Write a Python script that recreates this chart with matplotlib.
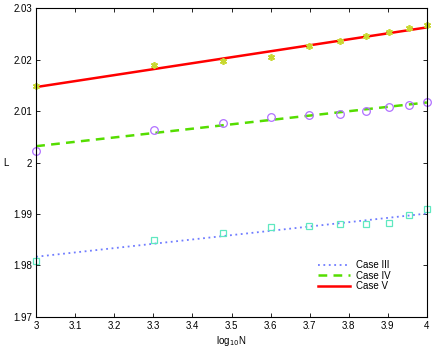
import numpy as np
import matplotlib
matplotlib.use("Agg")
import matplotlib.pyplot as plt

plt.rcParams["font.family"] = ["Liberation Sans", "DejaVu Sans"]

# log10 of N = 1000 ... 10000
log_n = [3.0, 3.301, 3.477, 3.602, 3.699, 3.778, 3.845, 3.903, 3.954, 4.0]

case3_pts = [1.9809, 1.9850, 1.9863, 1.9875, 1.9877, 1.9880, 1.9881, 1.9882, 1.9899, 1.9909]
case4_pts = [2.0023, 2.0064, 2.0077, 2.0089, 2.0092, 2.0094, 2.0101, 2.0108, 2.0113, 2.0118]
case5_pts = [2.0149, 2.0190, 2.0197, 2.0205, 2.0226, 2.0237, 2.0247, 2.0255, 2.0262, 2.0267]

# fitted lines, end values
fit_x = [3.0, 4.0]
case3_fit = [1.9817, 1.9901]
case4_fit = [2.0032, 2.0117]
case5_fit = [2.0147, 2.0263]

fig = plt.figure(figsize=(4.36, 3.49), dpi=100)
ax = fig.add_axes([0.083, 0.092, 0.896, 0.884])

l3, = ax.plot(fit_x, case3_fit, color="#6f7cff", linestyle=(0, (1, 2)), linewidth=1.3)
l4, = ax.plot(fit_x, case4_fit, color="#55dd00", linestyle=(0, (3.5, 2.5)), linewidth=1.8)
l5, = ax.plot(fit_x, case5_fit, color="#ff0000", linewidth=1.8)

ax.plot(log_n, case3_pts, linestyle="none", marker="s", markersize=4.5,
        markerfacecolor="none", markeredgecolor="#5fe8c0", markeredgewidth=0.9, clip_on=False)
ax.plot(log_n, case4_pts, linestyle="none", marker="o", markersize=5.5,
        markerfacecolor="none", markeredgecolor="#b070ff", markeredgewidth=0.9, clip_on=False)
ax.plot(log_n, case5_pts, linestyle="none", marker=(6, 2, 0), markersize=5,
        markeredgecolor="#c8d830", markeredgewidth=1.2, clip_on=False)

ax.set_xlim(3, 4)
ax.set_ylim(1.97, 2.03)
ax.set_xticks(np.arange(3, 4.01, 0.1))
ax.set_xticklabels(["3", "3.1", "3.2", "3.3", "3.4", "3.5", "3.6", "3.7", "3.8", "3.9", "4"])
ax.set_yticks([1.97, 1.98, 1.99, 2.0, 2.01, 2.02, 2.03])
ax.set_yticklabels(["1.97", "1.98", "1.99", "2", "2.01", "2.02", "2.03"])
ax.tick_params(direction="in", top=True, right=True, labelsize=7, length=3, width=0.6, pad=3)
for s in ax.spines.values():
    s.set_linewidth(0.8)

ax.set_xlabel(r"log$_{10}$N", fontsize=7, labelpad=2)
ax.set_ylabel("L", fontsize=7, rotation=0, ha="center", va="center")
ax.yaxis.set_label_coords(-0.077, 0.5)

ax.legend([l3, l4, l5], ["Case III", "Case IV", "Case V"], loc="lower right",
          bbox_to_anchor=(0.93, 0.055), frameon=False, fontsize=7, handlelength=3.3,
          handletextpad=0.6, labelspacing=0.05)

fig.savefig("out.png", dpi=100)
